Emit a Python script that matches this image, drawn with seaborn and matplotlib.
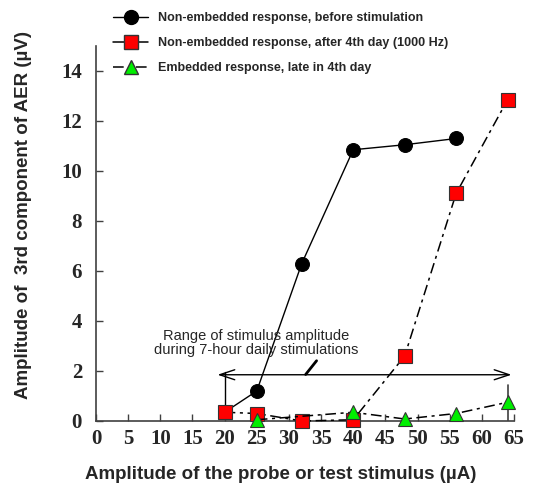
import matplotlib
matplotlib.use("Agg")
import matplotlib.pyplot as plt
import seaborn as sns
import numpy as np
import pandas as pd
from matplotlib.lines import Line2D

# ---- data ----
x_before = [20, 25, 32, 40, 48, 56]
y_before = [0.35, 1.2, 6.3, 10.85, 11.05, 11.3]
x_after = [20, 25, 32, 40, 48, 56, 64]
y_after = [0.35, 0.3, 0.0, 0.05, 2.6, 9.1, 12.85]
x_embed = [25, 40, 48, 56, 64]
y_embed = [0.05, 0.35, 0.08, 0.3, 0.75]
labels = ["Non-embedded response, before stimulation",
          "Non-embedded response, after 4th day (1000 Hz)",
          "Embedded response, late in 4th day"]
x_ticks = list(range(0, 70, 5))
y_ticks = list(range(0, 16, 2))

sns.set_theme(style="white")
plt.rcParams['font.family'] = ['Liberation Sans', 'DejaVu Sans']

fig = plt.figure(figsize=(5.35, 4.98), dpi=100)
ax = fig.add_axes([96/535, 1-421/498, (514-96)/535, (421-46)/498])

df1 = pd.DataFrame({"x": x_before, "y": y_before})
df2 = pd.DataFrame({"x": x_after, "y": y_after})
df3 = pd.DataFrame({"x": x_embed, "y": y_embed})

sns.lineplot(data=df1, x="x", y="y", ax=ax, color="black", lw=1.0, sort=False,
             marker="o", markersize=10, markerfacecolor="black",
             markeredgecolor="black", zorder=3, clip_on=False)
sns.lineplot(data=df2, x="x", y="y", ax=ax, color="black", lw=1.1, sort=False,
             marker="s", markersize=9.5, markerfacecolor="#ff0000",
             markeredgecolor="#333333", markeredgewidth=0.8, zorder=4,
             dashes=(7, 3, 2, 3), clip_on=False)
sns.lineplot(data=df3, x="x", y="y", ax=ax, color="black", lw=1.1, sort=False,
             marker="^", markersize=10.5, markerfacecolor="#00ee00",
             markeredgecolor="#333333", markeredgewidth=0.8, zorder=5,
             dashes=(7, 3, 2, 3), clip_on=False)

ax.set_xlim(0, 65)
ax.set_ylim(0, 15)
ax.set_xticks(x_ticks)
ax.set_yticks(y_ticks)
tickfont = dict(family="Liberation Serif", weight="bold", size=15)
ax.set_xticklabels([str(t) for t in x_ticks], fontdict=tickfont)
ax.set_yticklabels([str(t) for t in y_ticks], fontdict=tickfont)
ax.tick_params(direction="in", length=5, width=1, color="#404040",
               left=True, bottom=True, pad=6)
ax.tick_params(axis="y", pad=10)
for s in ["top", "right"]:
    ax.spines[s].set_visible(False)
for s in ["left", "bottom"]:
    ax.spines[s].set_color("#404040")
    ax.spines[s].set_linewidth(1.2)

ax.set_xlabel("Amplitude of the probe or test stimulus (\u00b5A)",
              fontsize=13.5, fontweight="bold")
ax.set_ylabel("Amplitude of  3rd component of AER (\u00b5V)",
              fontsize=13.5, fontweight="bold")
ax.xaxis.set_label_coords((281-96)/418, (421-474)/375)
ax.yaxis.set_label_coords((24-96)/418, (421-215)/375)
ax.xaxis.label.set_va("center")
ax.yaxis.label.set_va("center")

# annotation: range of stimulus amplitude
ax.plot([20, 20], [1.95, 0.5], color="black", lw=1.0, zorder=2)
ax.plot([64, 64], [1.45, 0.0], color="#404040", lw=1.2, zorder=2)
ax.annotate("", xy=(18.9, 1.85), xytext=(64.6, 1.85),
            arrowprops=dict(arrowstyle="<->,head_length=0.9,head_width=0.3",
                            color="black", lw=1.0, shrinkA=0, shrinkB=0))
ax.plot([34.3, 32.6], [2.41, 1.86], color="black", lw=2.0)
ax.text(24.9, 3.12, "Range of stimulus amplitude\nduring 7-hour daily stimulations",
        ha="center", va="center", fontsize=10.5, linespacing=1.0)

handles = [
    Line2D([], [], color="black", lw=1.0, marker="o", markersize=10,
           markerfacecolor="black"),
    Line2D([], [], color="black", lw=1.1, marker="s", markersize=9.5,
           markerfacecolor="#ff0000", markeredgecolor="#333333"),
    Line2D([], [], color="black", lw=1.1, marker="^", markersize=10.5,
           markerfacecolor="#00ee00", markeredgecolor="#333333",
           dashes=(7, 3, 2, 3)),
]
fig.legend(handles, labels, loc="upper left", bbox_to_anchor=(108/535, 1-7/498),
           frameon=False, prop=dict(family="Liberation Sans", weight="bold", size=9),
           handlelength=2.8, labelspacing=1.05, handletextpad=0.8, borderaxespad=0)

fig.savefig("out.png", dpi=100)
